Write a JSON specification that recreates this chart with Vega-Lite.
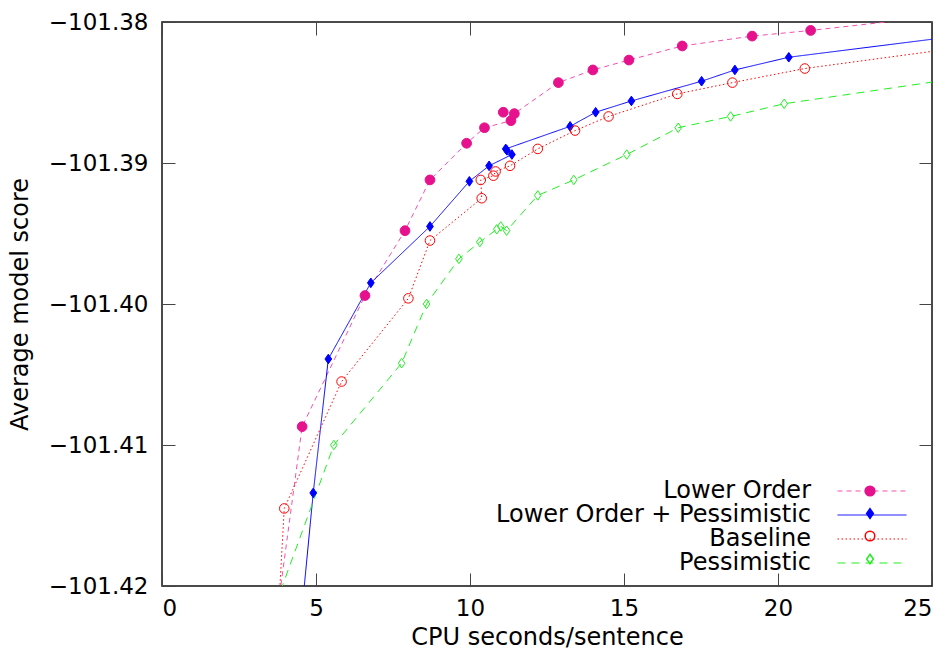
{
  "$schema": "https://vega.github.io/schema/vega-lite/v6.json",
  "width": 770,
  "height": 564,
  "autosize": {"type": "none"},
  "padding": {"left": 162, "top": 22, "right": 19, "bottom": 72},
  "background": "white",
  "config": {
    "font": "DejaVu Sans",
    "view": {"stroke": "#111", "strokeWidth": 1.5},
    "axis": {
      "domain": false, "grid": false, "tickColor": "#444", "tickSize": -13, "tickWidth": 1,
      "labelFont": "DejaVu Sans", "labelFontSize": 23, "labelColor": "#000",
      "titleFont": "DejaVu Sans", "titleFontSize": 24, "titleFontWeight": "normal", "titleColor": "#000"
    },
    "legend": {"labelFont": "DejaVu Sans", "labelFontSize": 24, "labelColor": "#000", "padding": 0, "labelLimit": 500}
  },
  "resolve": {"axis": {"x": "independent", "y": "independent"}},
  "data": {
    "values": [
      {"s": "Lower Order", "i": 0, "x": 3.55, "y": -101.425},
      {"s": "Lower Order", "i": 1, "x": 4.55, "y": -101.4087},
      {"s": "Lower Order", "i": 2, "x": 6.59, "y": -101.3994},
      {"s": "Lower Order", "i": 3, "x": 7.89, "y": -101.3948},
      {"s": "Lower Order", "i": 4, "x": 8.70, "y": -101.3912},
      {"s": "Lower Order", "i": 5, "x": 9.89, "y": -101.3886},
      {"s": "Lower Order", "i": 6, "x": 10.47, "y": -101.3875},
      {"s": "Lower Order", "i": 7, "x": 11.33, "y": -101.3870},
      {"s": "Lower Order", "i": 8, "x": 11.08, "y": -101.3864},
      {"s": "Lower Order", "i": 9, "x": 11.44, "y": -101.3865},
      {"s": "Lower Order", "i": 10, "x": 12.87, "y": -101.3843},
      {"s": "Lower Order", "i": 11, "x": 13.99, "y": -101.3834},
      {"s": "Lower Order", "i": 12, "x": 15.16, "y": -101.3827},
      {"s": "Lower Order", "i": 13, "x": 16.89, "y": -101.3817},
      {"s": "Lower Order", "i": 14, "x": 19.16, "y": -101.3810},
      {"s": "Lower Order", "i": 15, "x": 21.06, "y": -101.3806},
      {"s": "Lower Order", "i": 16, "x": 28.0, "y": -101.3789},

      {"s": "Lower Order + Pessimistic", "i": 0, "x": 4.40, "y": -101.425},
      {"s": "Lower Order + Pessimistic", "i": 1, "x": 4.91, "y": -101.4134},
      {"s": "Lower Order + Pessimistic", "i": 2, "x": 5.40, "y": -101.4039},
      {"s": "Lower Order + Pessimistic", "i": 3, "x": 6.78, "y": -101.3985},
      {"s": "Lower Order + Pessimistic", "i": 4, "x": 8.70, "y": -101.3945},
      {"s": "Lower Order + Pessimistic", "i": 5, "x": 9.98, "y": -101.3913},
      {"s": "Lower Order + Pessimistic", "i": 6, "x": 10.62, "y": -101.3902},
      {"s": "Lower Order + Pessimistic", "i": 7, "x": 11.36, "y": -101.3894},
      {"s": "Lower Order + Pessimistic", "i": 8, "x": 11.20, "y": -101.3891},
      {"s": "Lower Order + Pessimistic", "i": 9, "x": 11.16, "y": -101.3890},
      {"s": "Lower Order + Pessimistic", "i": 10, "x": 13.25, "y": -101.3874},
      {"s": "Lower Order + Pessimistic", "i": 11, "x": 14.08, "y": -101.3864},
      {"s": "Lower Order + Pessimistic", "i": 12, "x": 15.24, "y": -101.3856},
      {"s": "Lower Order + Pessimistic", "i": 13, "x": 17.52, "y": -101.3842},
      {"s": "Lower Order + Pessimistic", "i": 14, "x": 18.60, "y": -101.3834},
      {"s": "Lower Order + Pessimistic", "i": 15, "x": 20.35, "y": -101.3825},
      {"s": "Lower Order + Pessimistic", "i": 16, "x": 28.0, "y": -101.3804},

      {"s": "Baseline", "i": 0, "x": 3.70, "y": -101.425},
      {"s": "Baseline", "i": 1, "x": 3.97, "y": -101.4145},
      {"s": "Baseline", "i": 2, "x": 5.83, "y": -101.4055},
      {"s": "Baseline", "i": 3, "x": 8.00, "y": -101.3996},
      {"s": "Baseline", "i": 4, "x": 8.70, "y": -101.3955},
      {"s": "Baseline", "i": 5, "x": 10.38, "y": -101.3925},
      {"s": "Baseline", "i": 6, "x": 10.35, "y": -101.3912},
      {"s": "Baseline", "i": 7, "x": 10.76, "y": -101.3909},
      {"s": "Baseline", "i": 8, "x": 10.83, "y": -101.3906},
      {"s": "Baseline", "i": 9, "x": 11.30, "y": -101.3902},
      {"s": "Baseline", "i": 10, "x": 12.20, "y": -101.3890},
      {"s": "Baseline", "i": 11, "x": 13.41, "y": -101.3877},
      {"s": "Baseline", "i": 12, "x": 14.50, "y": -101.3867},
      {"s": "Baseline", "i": 13, "x": 16.73, "y": -101.3851},
      {"s": "Baseline", "i": 14, "x": 18.52, "y": -101.3843},
      {"s": "Baseline", "i": 15, "x": 20.87, "y": -101.3833},
      {"s": "Baseline", "i": 16, "x": 28.0, "y": -101.3812},

      {"s": "Pessimistic", "i": 0, "x": 3.07, "y": -101.425},
      {"s": "Pessimistic", "i": 1, "x": 5.58, "y": -101.4100},
      {"s": "Pessimistic", "i": 2, "x": 7.78, "y": -101.4042},
      {"s": "Pessimistic", "i": 3, "x": 8.59, "y": -101.4000},
      {"s": "Pessimistic", "i": 4, "x": 9.64, "y": -101.3968},
      {"s": "Pessimistic", "i": 5, "x": 10.32, "y": -101.3956},
      {"s": "Pessimistic", "i": 6, "x": 10.87, "y": -101.3947},
      {"s": "Pessimistic", "i": 7, "x": 11.00, "y": -101.3945},
      {"s": "Pessimistic", "i": 8, "x": 11.19, "y": -101.3948},
      {"s": "Pessimistic", "i": 9, "x": 12.20, "y": -101.3923},
      {"s": "Pessimistic", "i": 10, "x": 13.37, "y": -101.3912},
      {"s": "Pessimistic", "i": 11, "x": 15.09, "y": -101.3894},
      {"s": "Pessimistic", "i": 12, "x": 16.76, "y": -101.3875},
      {"s": "Pessimistic", "i": 13, "x": 18.46, "y": -101.3867},
      {"s": "Pessimistic", "i": 14, "x": 20.20, "y": -101.3858},
      {"s": "Pessimistic", "i": 15, "x": 28.0, "y": -101.3833}
    ]
  },
  "layer": [
    {
      "mark": {"type": "line", "strokeWidth": 1, "clip": true},
      "encoding": {
        "x": {"field": "x", "type": "quantitative",
          "scale": {"domain": [0, 25], "nice": false, "zero": false},
          "axis": {"orient": "bottom", "values": [0, 5, 10, 15, 20, 25], "title": "CPU seconds/sentence", "labelPadding": 24, "titlePadding": 5}},
        "y": {"field": "y", "type": "quantitative",
          "scale": {"domain": [-101.42, -101.38], "nice": false, "zero": false},
          "axis": {"orient": "left", "values": [-101.42, -101.41, -101.40, -101.39, -101.38], "format": ".2f", "title": "Average model score", "labelPadding": 27, "titlePadding": 16}},
        "order": {"field": "i", "type": "quantitative"},
        "color": {"field": "s", "type": "nominal",
          "sort": {"field": "y", "op": "max", "order": "descending"},
          "scale": {"range": ["#f450b0", "#0000ff", "#ff0000", "#22ee22"]},
          "legend": {"orient": "none", "legendX": 698, "legendY": 457, "title": null, "symbolType": "M-3,0H3", "symbolSize": 529, "symbolStrokeWidth": 1, "labelAlign": "right", "labelOffset": -73, "rowPadding": 0}},
        "strokeDash": {"field": "s", "type": "nominal",
          "sort": {"field": "y", "op": "max", "order": "descending"},
          "scale": {"range": [[5, 4], [1, 0], [1.5, 2.5], [8, 6]]},
          "legend": {"orient": "none", "legendX": 698, "legendY": 457, "title": null, "symbolType": "M-3,0H3", "symbolSize": 529, "symbolStrokeWidth": 1, "labelAlign": "right", "labelOffset": -73, "rowPadding": 0}}
      }
    },
    {
      "mark": {"type": "point", "filled": true, "strokeWidth": 1, "opacity": 1, "clip": true},
      "encoding": {
        "x": {"field": "x", "type": "quantitative",
          "axis": {"orient": "top", "values": [0, 5, 10, 15, 20, 25], "labels": false, "title": null}},
        "y": {"field": "y", "type": "quantitative",
          "axis": {"orient": "right", "values": [-101.42, -101.41, -101.40, -101.39, -101.38], "labels": false, "title": null}},
        "stroke": {"field": "s", "type": "nominal",
          "scale": {"domain": ["Lower Order", "Lower Order + Pessimistic", "Baseline", "Pessimistic"], "range": ["#e6118c", "#0000ff", "#ff0000", "#22ee22"]},
          "legend": {"orient": "none", "legendX": 702, "legendY": 463, "title": null, "labelExpr": "''", "labelFontSize": 1, "rowPadding": 6.5}},
        "fill": {"field": "s", "type": "nominal",
          "scale": {"domain": ["Lower Order", "Lower Order + Pessimistic", "Baseline", "Pessimistic"], "range": ["#e6118c", "#0000ff", "transparent", "transparent"]},
          "legend": {"orient": "none", "legendX": 702, "legendY": 463, "title": null, "labelExpr": "''", "labelFontSize": 1, "rowPadding": 6.5}},
        "shape": {"field": "s", "type": "nominal",
          "scale": {"domain": ["Lower Order", "Lower Order + Pessimistic", "Baseline", "Pessimistic"], "range": ["circle", "M0,-1L0.7,0L0,1L-0.7,0Z", "circle", "M0,-1L0.7,0L0,1L-0.7,0Z"]},
          "legend": {"orient": "none", "legendX": 702, "legendY": 463, "title": null, "labelExpr": "''", "labelFontSize": 1, "rowPadding": 6.5}},
        "size": {"field": "s", "type": "nominal",
          "scale": {"domain": ["Lower Order", "Lower Order + Pessimistic", "Baseline", "Pessimistic"], "range": [95, 90, 64, 64]},
          "legend": {"orient": "none", "legendX": 702, "legendY": 463, "title": null, "labelExpr": "''", "labelFontSize": 1, "rowPadding": 6.5}}
      }
    }
  ]
}
